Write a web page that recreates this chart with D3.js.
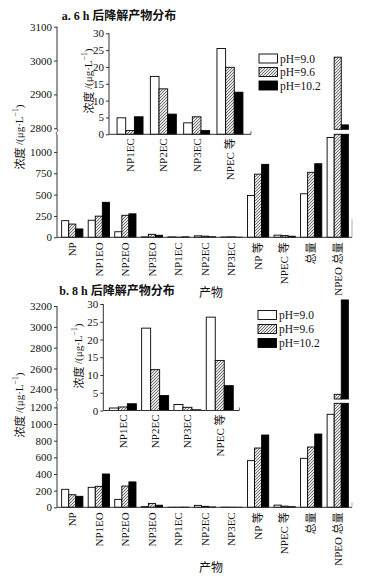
<!DOCTYPE html>
<html>
<head>
<meta charset="utf-8">
<script src="https://cdn.jsdelivr.net/npm/d3@7"></script>
<style>
html,body{margin:0;padding:0;background:#fff;}
svg{display:block;}
text{fill:#111;}
</style>
</head>
<body>
<svg id="chart" width="369" height="576"></svg>
<script>
// ---------------- DATA ----------------
const categories = ["NP","NP1EO","NP2EO","NP3EO","NP1EC","NP2EC","NP3EC","NP 等","NPEC 等","总量","NPEO 总量"];
const insetCategories = ["NP1EC","NP2EC","NP3EC","NPEC 等"];
const seriesNames = ["pH=9.0","pH=9.6","pH=10.2"];

// panel a: 6 h
const a_ph90  = [195, 200,  65,  5, 4.9, 17.2, 3.4, 490, 25.5, 510, 1170];
const a_ph96  = [155, 248, 258, 35, 1.1, 13.5, 5.2, 740, 19.9, 762, 3010];
const a_ph102 = [ 98, 410, 275, 24, 5.2,  6.0, 1.1, 855, 12.5, 862, 2810];

// panel b: 8 h
const b_ph90  = [216, 240,  95,  8, 0.7, 23.2, 1.7, 560, 26.3, 588, 1117];
const b_ph96  = [151, 252, 255, 47, 1.0, 11.5, 0.9, 712, 14.1, 724, 2352];
const b_ph102 = [132, 400, 305, 25, 1.9,  4.2, 0.2, 868,  7.0, 880, 3258];

// tick labels
const a_lowerTicks = [0, 250, 500, 750, 1000];
const a_upperTicks = [2800, 2900, 3000, 3100];
const b_lowerTicks = [0, 200, 400, 600, 800, 1000, 1200];
const b_upperTicks = [2400, 2600, 2800, 3000, 3200];
const insetTicks = [0, 5, 10, 15, 20, 25, 30];

// ---------------- DRAW ----------------
const svg = d3.select("#chart");
const FONT = "'Liberation Serif','Noto Sans CJK SC',serif";
const CJK = "'Noto Sans CJK SC','Liberation Serif',sans-serif";
const fmt = d3.format("d");

const defs = svg.append("defs");
const pat = defs.append("pattern").attr("id","hatch")
  .attr("patternUnits","userSpaceOnUse").attr("width",3).attr("height",3);
pat.append("rect").attr("width",3).attr("height",3).attr("fill","#e4e4e4");
pat.append("path").attr("d","M-1,1 L1,-1 M0,3 L3,0 M2,4 L4,2")
  .attr("stroke","#555").attr("stroke-width",0.8);

const fills = ["#ffffff","url(#hatch)","#000000"];

function yLabel(g, x, y, size){
  const t = g.append("text").attr("transform",`translate(${x},${y}) rotate(-90)`)
    .attr("text-anchor","middle").attr("dominant-baseline","central")
    .attr("font-family",FONT).attr("font-size",size);
  t.append("tspan").attr("font-family",CJK).text("浓度 ");
  t.append("tspan").text("/(μg·L");
  t.append("tspan").attr("font-size",size*0.7).attr("dy",-size*0.4).text("−1");
  t.append("tspan").attr("dy",size*0.4).text(")");
}

function styleAxis(a){
  a.attr("font-family",FONT).attr("font-size",11);
  a.select(".domain").remove();
  a.selectAll("text").attr("font-family",FONT).attr("font-size",11).attr("fill","#111");
  a.selectAll("line").attr("stroke","#333");
}

function drawPanel(cfg){
  const g = svg.append("g");
  const data = [cfg.s1, cfg.s2, cfg.s3];
  const axX = 57, axEnd = 352;

  // title
  g.append("text").attr("x",cfg.titleX).attr("y",cfg.titleY)
    .attr("text-anchor","middle").attr("dominant-baseline","central")
    .attr("font-family",FONT).attr("font-size",12).attr("font-weight","bold")
    .text(cfg.title);

  const x0 = d3.scaleBand().domain(categories).range([59, 351])
    .paddingInner(0.2).paddingOuter(0.1);
  const x1 = d3.scaleBand().domain(seriesNames).range([0, x0.bandwidth()]);

  const yL = d3.scaleLinear().domain([0, cfg.lowerMax]).range([cfg.y0, cfg.lowerTop]);
  const yU = d3.scaleLinear().domain([cfg.upperMin, cfg.upperMax]).range([cfg.upperBottom, cfg.upperTop]);

  // bars
  categories.forEach((c, i) => {
    seriesNames.forEach((s, k) => {
      const v = data[k][i];
      const bx = x0(c) + x1(s);
      const bw = x1.bandwidth();
      const common = r => r.attr("x",bx).attr("width",bw).attr("fill",fills[k])
        .attr("stroke","#000").attr("stroke-width",0.9);
      if (v <= cfg.lowerMax){
        common(g.append("rect")).attr("y",yL(v)).attr("height",yL(0)-yL(v));
      } else {
        common(g.append("rect")).attr("y",yL(cfg.lowerMax)).attr("height",yL(0)-yL(cfg.lowerMax));
        common(g.append("rect")).attr("y",yU(v)).attr("height",yU(cfg.upperMin)-yU(v));
      }
    });
  });

  // y axes (lower and upper)
  const axL = g.append("g").attr("transform",`translate(${axX},0)`)
    .call(d3.axisLeft(yL).tickValues(cfg.lowerTicks).tickFormat(fmt).tickSize(3).tickPadding(2));
  const axU = g.append("g").attr("transform",`translate(${axX},0)`)
    .call(d3.axisLeft(yU).tickValues(cfg.upperTicks).tickFormat(fmt).tickSize(3).tickPadding(2));
  styleAxis(axL); styleAxis(axU);
  g.append("line").attr("x1",axX).attr("x2",axX).attr("y1",yL(0)).attr("y2",cfg.lowerTop)
    .attr("stroke","#333").attr("stroke-width",1);
  g.append("line").attr("x1",axX).attr("x2",axX).attr("y1",cfg.upperBottom).attr("y2",yU(cfg.upperMax))
    .attr("stroke","#333").attr("stroke-width",1);
  // break marks
  const bm = (cfg.upperBottom + cfg.lowerTop)/2;
  g.append("path")
    .attr("d",`M${axX},${cfg.upperBottom} C${axX+3},${bm-1} ${axX-3},${bm+1} ${axX},${cfg.lowerTop}`)
    .attr("fill","none").attr("stroke","#333").attr("stroke-width",0.9);

  // x axis
  g.append("line").attr("x1",axX).attr("x2",axEnd).attr("y1",cfg.y0).attr("y2",cfg.y0)
    .attr("stroke","#333").attr("stroke-width",1);
  g.append("line").attr("x1",axEnd).attr("x2",axEnd).attr("y1",cfg.y0).attr("y2",cfg.y0-cfg.endTick)
    .attr("stroke","#999").attr("stroke-width",0.8);
  const xa = g.append("g").attr("transform",`translate(0,${cfg.y0})`)
    .call(d3.axisBottom(x0).tickSize(0).tickPadding(0));
  styleAxis(xa);
  xa.selectAll("text").attr("transform","rotate(-90)").attr("text-anchor","end")
    .attr("x",-5).attr("y",0).attr("dy","0.35em");

  // x title
  g.append("text").attr("x",211).attr("y",cfg.xTitleY).attr("text-anchor","middle")
    .attr("dominant-baseline","central").attr("font-family",CJK).attr("font-size",12)
    .text("产物");

  // y title
  yLabel(g, 19, cfg.yTitleY, 11);

  // ---------- inset ----------
  const ins = cfg.inset;
  const xi = d3.scaleBand().domain(insetCategories).range([ins.x, ins.xEnd])
    .paddingInner(ins.pi).paddingOuter(ins.po);
  const xi1 = d3.scaleBand().domain(seriesNames).range([0, xi.bandwidth()]);
  const yi = d3.scaleLinear().domain([0,30]).range([ins.y0, ins.yTop]);
  insetCategories.forEach(c => {
    const i = categories.indexOf(c);
    seriesNames.forEach((s, k) => {
      const v = data[k][i];
      g.append("rect").attr("x",xi(c)+xi1(s)).attr("width",xi1.bandwidth())
        .attr("y",yi(v)).attr("height",yi(0)-yi(v))
        .attr("fill",fills[k]).attr("stroke","#000").attr("stroke-width",0.9);
    });
  });
  const ay = g.append("g").attr("transform",`translate(${ins.x},0)`)
    .call(d3.axisLeft(yi).tickValues(insetTicks).tickFormat(fmt).tickSize(3).tickPadding(2));
  styleAxis(ay);
  g.append("line").attr("x1",ins.x).attr("x2",ins.x).attr("y1",yi(0)).attr("y2",yi(30))
    .attr("stroke","#333").attr("stroke-width",1);
  g.append("line").attr("x1",ins.x).attr("x2",ins.xEnd).attr("y1",yi(0)).attr("y2",yi(0))
    .attr("stroke","#333").attr("stroke-width",1);
  g.append("line").attr("x1",ins.xEnd).attr("x2",ins.xEnd).attr("y1",yi(0)).attr("y2",yi(0)-3)
    .attr("stroke","#333").attr("stroke-width",0.8);
  const xia = g.append("g").attr("transform",`translate(0,${yi(0)})`)
    .call(d3.axisBottom(xi).tickSize(0).tickPadding(0));
  styleAxis(xia);
  xia.selectAll("text").attr("transform","rotate(-90)").attr("text-anchor","end")
    .attr("x",-4).attr("y",0).attr("dy","0.35em");
  yLabel(g, ins.labelX, ins.labelY, 11);

  // ---------- legend ----------
  const lg = cfg.legend;
  seriesNames.forEach((s, k) => {
    const cy = lg.rows[k];
    g.append("rect").attr("x",lg.x).attr("y",cy-4.5).attr("width",18.5).attr("height",9)
      .attr("fill",fills[k]).attr("stroke","#000").attr("stroke-width",0.9);
    g.append("text").attr("x",lg.x+21).attr("y",cy).attr("dominant-baseline","central")
      .attr("font-family",FONT).attr("font-size",11.5).text(s);
  });
}

drawPanel({
  title:"a. 6 h 后降解产物分布", titleX:119, titleY:16,
  s1:a_ph90, s2:a_ph96, s3:a_ph102,
  y0:237.3, lowerMax:1207, lowerTop:134.3,
  upperMin:2797, upperMax:3100, upperBottom:129.3, upperTop:26.7,
  lowerTicks:a_lowerTicks, upperTicks:a_upperTicks,
  endTick:18, xTitleY:291, yTitleY:137,
  inset:{x:109, xEnd:251, pi:0.22, po:0.242, y0:134.3, yTop:33.3, labelX:88, labelY:81},
  legend:{x:259, rows:[58.5,72,85.5]}
});

drawPanel({
  title:"b. 8 h 后降解产物分布", titleX:117, titleY:291,
  s1:b_ph90, s2:b_ph96, s3:b_ph102,
  y0:507.3, lowerMax:1249, lowerTop:403.3,
  upperMin:2307, upperMax:3200, upperBottom:399, upperTop:306,
  lowerTicks:b_lowerTicks, upperTicks:b_upperTicks,
  endTick:5, xTitleY:566, yTitleY:405,
  inset:{x:103.3, xEnd:239.3, pi:0.164, po:0.187, y0:410.5, yTop:304, labelX:78, labelY:356},
  legend:{x:258, rows:[315,329,343]}
});
</script>
</body>
</html>
